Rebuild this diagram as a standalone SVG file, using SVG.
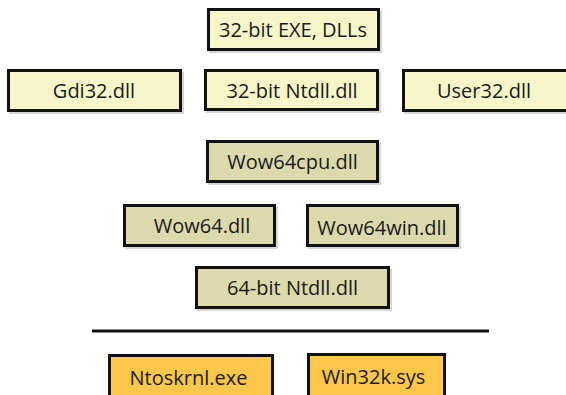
<svg xmlns="http://www.w3.org/2000/svg" width="566" height="395" viewBox="0 0 566 395">
<style>
  .box { stroke: #111; stroke-width: 3; }
  .shadow { fill: #d6d6d6; }
  .light { fill: #F6F6C8; }
  .tan { fill: #DCD9AC; }
  .orange { fill: #FDC74A; }
  text { font-family: "Open Sans", "Noto Sans", "Liberation Sans", sans-serif; font-size: 20px; fill: #1a1a1a; text-anchor: middle; }
</style>
<rect width="566" height="395" fill="#ffffff"/>
<g id="exe">
  <rect class="shadow" x="209" y="11" width="173" height="42"/>
  <rect class="box light" x="208.5" y="9.5" width="170" height="40"/>
  <text x="293" y="37">32-bit EXE, DLLs</text>
</g>
<g id="gdi32">
  <rect class="shadow" x="9" y="72" width="175" height="42"/>
  <rect class="box light" x="8.5" y="70.5" width="172" height="40"/>
  <text x="94" y="98">Gdi32.dll</text>
</g>
<g id="ntdll32">
  <rect class="shadow" x="206" y="72" width="175" height="41"/>
  <rect class="box light" x="205.5" y="70.5" width="172" height="39"/>
  <text x="292" y="98">32-bit Ntdll.dll</text>
</g>
<g id="user32">
  <rect class="shadow" x="404" y="72" width="173" height="42"/>
  <rect class="box light" x="403.5" y="70.5" width="170" height="40"/>
  <text x="484" y="98">User32.dll</text>
</g>
<g id="wow64cpu">
  <rect class="shadow" x="208" y="143" width="173" height="42"/>
  <rect class="box tan" x="207.5" y="141.5" width="170" height="40"/>
  <text x="292.5" y="169">Wow64cpu.dll</text>
</g>
<g id="wow64">
  <rect class="shadow" x="125" y="207" width="153" height="42"/>
  <rect class="box tan" x="124.5" y="205.5" width="150" height="40"/>
  <text x="202" y="233">Wow64.dll</text>
</g>
<g id="wow64win">
  <rect class="shadow" x="308" y="207" width="153" height="42"/>
  <rect class="box tan" x="307.5" y="205.5" width="150" height="40"/>
  <text x="382" y="235">Wow64win.dll</text>
</g>
<g id="ntdll64">
  <rect class="shadow" x="197" y="269" width="195" height="42"/>
  <rect class="box tan" x="196.5" y="267.5" width="192" height="40"/>
  <text x="292.5" y="295">64-bit Ntdll.dll</text>
</g>
<g id="connectors">
  <line x1="92" y1="331" x2="489" y2="331" stroke="#111" stroke-width="3"/>
</g>
<g id="ntoskrnl">
  <rect class="box orange" x="109.5" y="355.5" width="163" height="50"/>
  <text x="188.5" y="385">Ntoskrnl.exe</text>
</g>
<g id="win32k">
  <rect class="box orange" x="308.5" y="354.5" width="136" height="50"/>
  <text x="373.5" y="384">Win32k.sys</text>
</g>
</svg>
